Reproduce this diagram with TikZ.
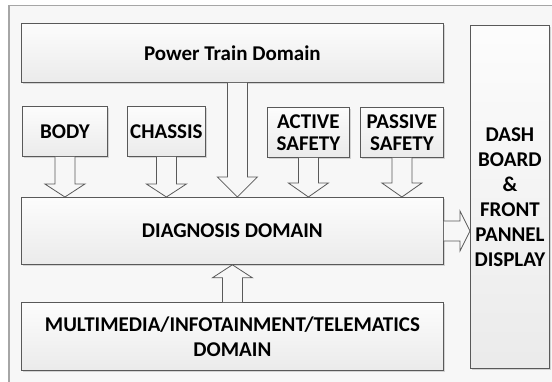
\documentclass[tikz,border=0pt]{standalone}
\usepackage{fontspec}
\setmainfont{Carlito}
\usetikzlibrary{calc,shadows}

\tikzset{
  blockbox/.style={draw=black!65, line width=0.8pt, top color=black!1, bottom color=black!8,
    drop shadow={shadow xshift=1.2pt, shadow yshift=-1.2pt, opacity=0.3},
    anchor=north west, inner sep=0pt, align=center,
    font=\fontsize{21}{22}\selectfont\bfseries},
  hollow/.style={draw=black!65, line width=0.8pt, fill=black!3, line join=miter},
}

% hollow block arrow going down from one box to another
\newcommand{\hollowdown}[4][0pt]{%
  \draw[hollow] let \p1=($(#2.south)+(#1,0)$), \p2=(#3.north) in
    (\x1-10pt,\y1) -- (\x1-10pt,\y2+#4) -- (\x1-20pt,\y2+#4) -- (\x1,\y2)
    -- (\x1+20pt,\y2+#4) -- (\x1+10pt,\y2+#4) -- (\x1+10pt,\y1);}

\begin{document}
\begin{tikzpicture}[x=1pt,y=-1pt]
  \path[use as bounding box, clip] (0,0) rectangle (552,381);
  \fill[white] (0,0) rectangle (552,381);
  % frame
  \draw[black!35, line width=1.5pt, fill=black!3] (9,5.5) rectangle (570,400);

  % domains
  \node[blockbox, minimum width=422pt, minimum height=59pt] (power) at (21,23) {Power Train Domain};
  \node[blockbox, minimum width=85pt, minimum height=50pt] (body) at (22,106) {BODY};
  \node[blockbox, minimum width=78pt, minimum height=50pt] (chassis) at (127,106) {CHASSIS};
  \node[blockbox, minimum width=82pt, minimum height=50pt] (active) at (267,107) {ACTIVE\\SAFETY};
  \node[blockbox, minimum width=83pt, minimum height=50pt] (passive) at (360,107) {PASSIVE\\SAFETY};
  \node[blockbox, minimum width=422pt, minimum height=67pt] (diag) at (21,197) {DIAGNOSIS DOMAIN};
  \node[blockbox, minimum width=422pt, minimum height=68pt, font=\fontsize{21}{25}\selectfont\bfseries] (media) at (21,302) {MULTIMEDIA/INFOTAINMENT/TELEMATICS\\DOMAIN};
  \node[blockbox, minimum width=79pt, minimum height=343pt, font=\fontsize{21}{25}\selectfont\bfseries] (dash) at (470,25) {DASH\\BOARD\\\&\\FRONT\\PANNEL\\DISPLAY};

  % arrows into diagnosis
  \hollowdown{body}{diag}{13pt}
  \hollowdown{chassis}{diag}{13pt}
  \hollowdown[5pt]{power}{diag}{20pt}
  \hollowdown{active}{diag}{14pt}
  \hollowdown{passive}{diag}{14pt}
  \draw[hollow] let \p1=(media.north), \p2=(diag.south) in
    (\x1-10pt,\y1) -- (\x1-10pt,\y2-13pt) -- (\x1-20pt,\y2-13pt) -- (\x1,\y2)
    -- (\x1+20pt,\y2-13pt) -- (\x1+10pt,\y2-13pt) -- (\x1+10pt,\y1);
  \draw[hollow] let \p1=(diag.east), \p2=(dash.west) in
    (\x1,\y1+10pt) -- (\x2-10pt,\y1+10pt) -- (\x2-10pt,\y1+20pt) -- (\x2,\y1)
    -- (\x2-10pt,\y1-20pt) -- (\x2-10pt,\y1-10pt) -- (\x1,\y1-10pt);
\end{tikzpicture}
\end{document}
